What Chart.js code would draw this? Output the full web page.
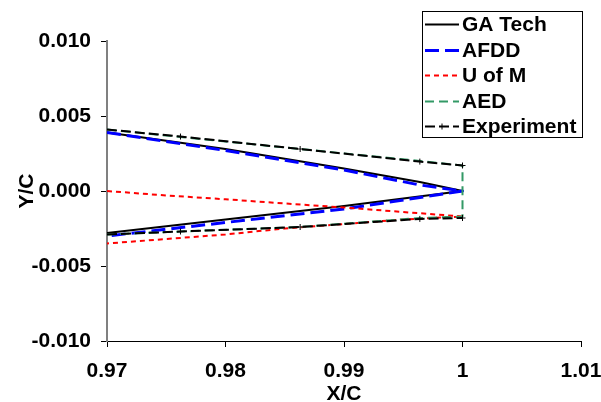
<!DOCTYPE html>
<html>
<head>
<meta charset="utf-8">
<script src="https://cdn.jsdelivr.net/npm/chart.js@4"></script>
<style>
  body { margin: 0; background: #fff; }
  #wrap { width: 601px; height: 402px; }
</style>
</head>
<body>
<div id="wrap"><canvas id="chart" width="601" height="402"></canvas></div>
<script>
// Axis ticks
const xTicks = [0.97, 0.98, 0.99, 1.0, 1.01];
const yTicks = [-0.010, -0.005, 0.000, 0.005, 0.010];

// GA Tech (upper surface to trailing edge, then lower surface back)
const gaTechX = [0.97, 0.98, 0.99, 0.9964, 1.0, 0.99, 0.98, 0.97];
const gaTechY = [0.0039, 0.0028, 0.0015, 0.0006, 0.0, -0.0010, -0.0019, -0.0028];

// AFDD
const afddX = [0.97, 0.98, 0.99, 0.9964, 1.0, 0.99, 0.98, 0.97];
const afddY = [0.0039, 0.0027, 0.0014, 0.0004, 0.0, -0.0012, -0.0021, -0.0030];

// U of M
const uomX = [0.97, 0.975, 0.98, 0.985, 0.99, 0.995, 1.0, 0.995, 0.99, 0.985, 0.98, 0.975, 0.97];
const uomY = [0.0, -0.0003, -0.00055, -0.00083, -0.0011, -0.0014, -0.0017, -0.0019, -0.0022, -0.0025, -0.0029, -0.0032, -0.0035];

// AED (closed trailing edge)
const aedX = [0.97, 0.9762, 0.9863, 0.9964, 1.0, 1.0, 0.9964, 0.9863, 0.9762, 0.97];
const aedY = [0.0041, 0.0036, 0.0028, 0.0020, 0.0017, -0.0017, -0.0018, -0.0024, -0.0027, -0.0029];

// Experiment, upper and lower surfaces
const expX = [0.97, 0.9762, 0.9863, 0.9964, 1.0];
const expUpperY = [0.0041, 0.00363, 0.0028, 0.00196, 0.0017];
const expLowerY = [-0.0029, -0.0027, -0.0024, -0.00186, -0.0018];

const FONT = 'Arial, "Liberation Sans", sans-serif';

function pts(xs, ys) {
    return xs.map((x, i) => ({ x: x, y: ys[i] }));
}

function lineSet(label, xs, ys, color, width, dash, order) {
    return {
        label: label,
        data: pts(xs, ys),
        showLine: true,
        borderColor: color,
        borderWidth: width,
        borderDash: dash,
        borderJoinStyle: 'round',
        pointRadius: 0,
        fill: false,
        tension: 0,
        order: order
    };
}

const expStyle = {
    pointStyle: 'cross',
    pointRadius: ctx => (ctx.raw && ctx.raw.x > 0.97 ? 3 : 0),
    pointBorderColor: '#000',
    pointBorderWidth: 1
};

const datasets = [
    lineSet('GA Tech', gaTechX, gaTechY, '#000000', 2, [], 5),
    lineSet('AFDD', afddX, afddY, '#0000ff', 3, [14, 6], 4),
    lineSet('U of M', uomX, uomY, '#ff0000', 2, [5, 4], 3),
    lineSet('AED', aedX, aedY, '#339966', 2, [9, 5], 2),
    Object.assign(lineSet('Experiment', expX, expUpperY, '#000000', 2, [10, 4], 1), expStyle),
    Object.assign(lineSet('Experiment lower', expX, expLowerY, '#000000', 2, [10, 4], 1), expStyle, { hideInLegend: true })
];

// Boxed legend drawn over the upper right corner
const boxLegend = {
    id: 'boxLegend',
    afterDraw(chart) {
        const ctx = chart.ctx;
        const items = chart.data.datasets.filter(d => !d.hideInLegend);
        ctx.save();
        ctx.fillStyle = '#fff';
        ctx.fillRect(422, 11, 160, 126);
        ctx.strokeStyle = '#000';
        ctx.lineWidth = 1;
        ctx.strokeRect(422.5, 11.5, 160, 126);
        ctx.font = 'bold 21px ' + FONT;
        ctx.textBaseline = 'middle';
        items.forEach((d, i) => {
            const y = Math.round(24 + i * 25.5) + 0.5;
            ctx.strokeStyle = d.borderColor;
            ctx.lineWidth = d.borderWidth;
            ctx.setLineDash(d.borderDash);
            ctx.beginPath();
            ctx.moveTo(425, y);
            ctx.lineTo(459, y);
            ctx.stroke();
            ctx.setLineDash([]);
            if (d.pointStyle === 'cross') {
                ctx.lineWidth = 1;
                ctx.beginPath();
                ctx.moveTo(442, y - 3);
                ctx.lineTo(442, y + 3);
                ctx.moveTo(439, y);
                ctx.lineTo(445, y);
                ctx.stroke();
            }
            ctx.fillStyle = '#000';
            ctx.fillText(d.label, 462, y + 1);
        });
        ctx.restore();
    }
};

const tickFont = { family: FONT, size: 21, weight: 'bold' };

new Chart(document.getElementById('chart').getContext('2d'), {
    type: 'scatter',
    data: { datasets: datasets },
    plugins: [boxLegend],
    options: {
        responsive: false,
        animation: false,
        layout: { padding: { top: 41, left: 2, right: 20, bottom: 0 } },
        plugins: {
            legend: { display: false },
            tooltip: { enabled: false }
        },
        scales: {
            x: {
                type: 'linear',
                min: 0.97,
                max: 1.01,
                afterBuildTicks: s => { s.ticks = xTicks.map(v => ({ value: v })); },
                afterFit: s => { s.height = 61; s.paddingRight = 0; },
                ticks: {
                    font: tickFont,
                    color: '#000',
                    padding: 12,
                    maxRotation: 0,
                    callback: v => String(Number(v.toFixed(2)))
                },
                grid: { drawOnChartArea: false, tickLength: 6, color: '#000' },
                border: { color: '#000', width: 1 },
                title: { display: true, text: 'X/C', font: tickFont, color: '#000', padding: { top: 0, bottom: -5 } }
            },
            y: {
                type: 'linear',
                min: -0.01,
                max: 0.01,
                afterBuildTicks: s => { s.ticks = yTicks.map(v => ({ value: v })); },
                afterFit: s => { s.width = 105; },
                ticks: {
                    font: tickFont,
                    color: '#000',
                    padding: 10,
                    callback: v => v.toFixed(3)
                },
                grid: { drawOnChartArea: false, tickLength: 6, color: '#000' },
                border: { color: '#808080', width: 2 },
                title: { display: true, text: 'Y/C', font: tickFont, color: '#000', padding: { top: 13, bottom: 0 } }
            }
        }
    }
});
</script>
</body>
</html>
